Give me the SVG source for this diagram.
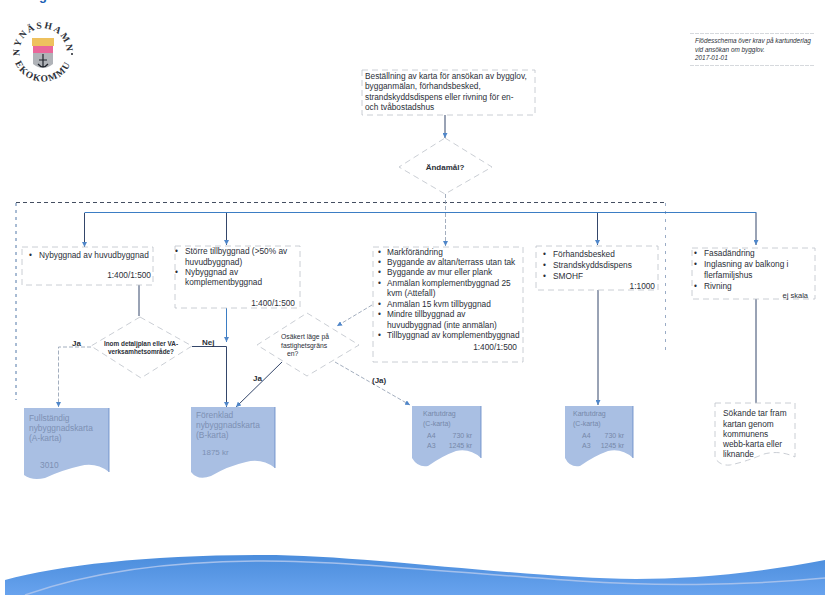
<svg xmlns="http://www.w3.org/2000/svg" width="825" height="595" viewBox="0 0 825 595">
<style>
text{font-family:"Liberation Sans",Arial,sans-serif;fill:#2b2f38;font-size:8.3px}
.w{fill:#fff;stroke:#bcc1c9;stroke-width:.8;stroke-dasharray:6 4}
.d{fill:#a9bfe3;stroke:none}
.e{fill:none;stroke:#5f86c4;stroke-width:.8}
.c{fill:none;stroke:#34466a;stroke-width:1}
.u{fill:none;stroke:#3b7dc4;stroke-width:1}
.l{fill:none;stroke:#8c99ad;stroke-width:.8;stroke-dasharray:4 2}
.t{fill:#7d90b3;font-size:8.4px}
.x{fill:#7688a9;font-size:7px}
.s{font-size:6.4px;font-style:italic}
.y{font-size:6.800px}
.k{font-weight:bold;font-size:8px}
.r{font-family:"Liberation Serif",serif;font-size:9.500px;font-weight:bold}
</style>
<defs>
<marker id="a" markerUnits="userSpaceOnUse" markerWidth="5" markerHeight="5" refX="5" refY="2.500" orient="auto"><path d="M0 0L5 2.500L0 5z" fill="#4f86c9"/></marker>
<linearGradient id="g" x1="0" y1="0" x2="0" y2="1"><stop offset="0" stop-color="#4b8ddc"/><stop offset="1" stop-color="#68a3ee"/></linearGradient>
<path id="ring" d="M20.300 58A23.500 23.500 0 1 1 65.700 58"/>
<path id="ring2" d="M14.500 61A30 30 0 0 0 71.500 61"/>
</defs>
<rect width="825" height="595" fill="#fff"/>
<g id="title"><text x="39" y="0" style="font-size:13px;font-weight:bold;fill:#1d5fb5">g</text></g>
<g id="logo">
<rect x="32" y="38" width="22" height="8" fill="#eec15e"/>
<rect x="33" y="46" width="20" height="7" fill="#e9679a"/>
<path d="M33 53H53V64Q43 72 33 64z" fill="#b0b3b8"/>
<path d="M43 54V67M39 60H47M38 64Q43 70 48 64" stroke="#20242c" stroke-width="1.200" fill="none"/>
<circle cx="15.500" cy="53" r="1" fill="#20242c"/><circle cx="72" cy="54" r="1" fill="#20242c"/>
<text class="r" style="letter-spacing:1.800px"><textPath href="#ring" startOffset="2">NYNÄSHAMN</textPath></text>
<text class="r" style="letter-spacing:1.200px"><textPath href="#ring2" startOffset="2">EKOKOMMUN</textPath></text>
</g>
<g id="note">
<path d="M690 33.500H815M690 65.500H815" stroke="#c4c8ce" stroke-width=".7" stroke-dasharray="4 1"/>
<text class="s" x="695" y="43">Flödesschema över krav på kartunderlag</text>
<text class="s" x="695" y="52">vid ansökan om bygglov.</text>
<text class="s" x="695" y="60">2017-01-01</text>
</g>
<g id="connectors">
<path d="M16 203V400" fill="none" stroke="#3f6a9e" stroke-width=".9" stroke-dasharray="3 4"/>
<path d="M16 202.500H665" fill="none" stroke="#2f3a4f" stroke-width=".9" stroke-dasharray="4 3"/>
<path d="M665.500 203V352" fill="none" stroke="#8fa3c0" stroke-width=".9" stroke-dasharray="3 5"/>
<path class="c" d="M445 115V138" marker-end="url(#a)"/>
<path class="l" d="M445.500 194V213"/>
<path class="u" d="M84.500 212.500H756.500"/>
<path class="c" d="M84.500 213V247" marker-end="url(#a)"/>
<path class="c" d="M226.500 213V245" marker-end="url(#a)"/>
<path class="l" d="M445.500 213V246" marker-end="url(#a)"/>
<path class="c" d="M597.500 213V245" marker-end="url(#a)"/>
<path class="c" d="M756 213V245" marker-end="url(#a)"/>
<path class="c" d="M139 285V316"/>
<path class="l" d="M91 347H58.500V407" marker-end="url(#a)"/>
<path class="u" d="M226.500 290V342" marker-end="url(#a)"/>
<path class="c" d="M192 346.500H226.500V407" marker-end="url(#a)"/>
<path class="l" d="M372 305L337 326" marker-end="url(#a)"/>
<path class="c" d="M282 362L236 407" marker-end="url(#a)"/>
<path class="l" d="M335 362L410 405" marker-end="url(#a)"/>
<path class="c" d="M598 290V405" marker-end="url(#a)"/>
<path class="c" d="M756 299V403"/>
</g>
<g id="start"><rect class="w" x="362" y="70" width="173" height="45"/>
<text x="365" y="79">Beställning av karta för ansökan av bygglov,</text>
<text x="365" y="89">bygganmälan, förhandsbesked,</text>
<text x="365" y="100">strandskyddsdispens eller rivning för en-</text>
<text x="365" y="110">och tvåbostadshus</text></g>
<g id="andamal"><path class="w" d="M445 138L492 167L445 194L399 167z"/><text x="445" y="170" text-anchor="middle" class="k">Ändamål?</text></g>
<g id="n1"><rect class="w" x="22" y="247" width="131" height="38"/>
<text x="29" y="258">•</text><text x="39" y="258">Nybyggnad av huvudbyggnad</text><text x="151" y="278" text-anchor="end">1:400/1:500</text></g>
<g id="n2"><rect class="w" x="175" y="246" width="125" height="62"/>
<text x="175" y="254">•</text><text x="185" y="254">Större tillbyggnad (&gt;50% av</text><text x="185" y="265">huvudbyggnad)</text><text x="175" y="275">•</text><text x="185" y="275">Nybyggnad av</text><text x="185" y="285">komplementbyggnad</text><text x="295" y="306" text-anchor="end">1:400/1:500</text></g>
<g id="n3"><rect class="w" x="373" y="247" width="150" height="115"/>
<text x="378" y="255">•</text><text x="387" y="255">Markförändring</text>
<text x="378" y="265">•</text><text x="387" y="265">Byggande av altan/terrass utan tak</text>
<text x="378" y="275">•</text><text x="387" y="275">Byggande av mur eller plank</text>
<text x="378" y="286">•</text><text x="387" y="286">Anmälan komplementbyggnad 25</text>
<text x="387" y="296">kvm (Attefall)</text>
<text x="378" y="307">•</text><text x="387" y="307">Anmälan 15 kvm tillbyggnad</text>
<text x="378" y="317">•</text><text x="387" y="317">Mindre tillbyggnad av</text>
<text x="387" y="328">huvudbyggnad (inte anmälan)</text>
<text x="378" y="338">•</text><text x="387" y="338">Tillbyggnad av komplementbyggnad</text>
<text x="517" y="350" text-anchor="end">1:400/1:500</text></g>
<g id="n4"><rect class="w" x="536" y="246" width="122" height="44"/>
<text x="543" y="257">•</text><text x="553" y="257">Förhandsbesked</text><text x="543" y="268">•</text><text x="553" y="268">Strandskyddsdispens</text><text x="543" y="279">•</text><text x="553" y="279">SMOHF</text><text x="655" y="289" text-anchor="end">1:1000</text></g>
<g id="n5"><rect class="w" x="692" y="248" width="123" height="51"/>
<text x="694" y="256">•</text><text x="704" y="256">Fasadändring</text><text x="694" y="267">•</text><text x="704" y="267">Inglasning av balkong i</text><text x="704" y="278">flerfamiljshus</text><text x="694" y="289">•</text><text x="704" y="289">Rivning</text><text x="808" y="298" text-anchor="end" style="font-size:7.500px">ej skala</text></g>
<g id="q1"><path class="w" d="M140 317L192 346L141 378L91 346z"/><text x="141" y="346" text-anchor="middle" style="font-size:6.400px;font-weight:bold">Inom detaljplan eller VA-</text><text x="141" y="354" text-anchor="middle" style="font-size:6.400px;font-weight:bold">verksamhetsområde?</text></g>
<g id="q2"><path class="w" d="M307 313L359 345L307 376L257 345z"/><text class="y" x="281" y="339">Osäkert läge på</text><text class="y" x="281" y="348">fastighetsgräns</text><text class="y" x="287" y="356">en?</text></g>
<g id="d1"><path class="d" d="M24 408H109V472Q96 462 80 466Q62 470 45 478Q32 481 24 475z"/><path class="e" d="M109 408V472"/><text class="t" x="29" y="421">Fullständig</text><text class="t" x="29" y="431">nybyggnadskarta</text><text class="t" x="29" y="441">(A-karta)</text><text class="t" x="40" y="468">3010</text></g>
<g id="d2"><path class="d" d="M191 407H275V468Q262 458 246 462Q228 466 211 476Q198 481 191 472z"/><path class="e" d="M275 407V468"/><text class="t" x="196" y="418">Förenklad</text><text class="t" x="196" y="428">nybyggnadskarta</text><text class="t" x="196" y="438">(B-karta)</text><text class="t" x="202" y="455" style="font-size:8px">1875 kr</text></g>
<g id="d3"><path class="d" d="M412 406H481V458Q470 448 456 451Q442 456 428 466Q418 468 412 458z"/><path class="e" d="M481 406V458"/><text class="x" x="423" y="416">Kartutdrag</text><text class="x" x="423" y="426">(C-karta)</text><text class="x" x="427" y="438">A4</text><text class="x" x="472" y="438" text-anchor="end">730 kr</text><text class="x" x="427" y="448">A3</text><text class="x" x="472" y="448" text-anchor="end">1245 kr</text></g>
<g id="d4"><path class="d" d="M565 406H633V458Q622 448 608 451Q594 456 580 466Q570 468 565 458z"/><path class="e" d="M633 406V458"/><text class="x" x="573" y="416">Kartutdrag</text><text class="x" x="573" y="426">(C-karta)</text><text class="x" x="582" y="438">A4</text><text class="x" x="624" y="438" text-anchor="end">730 kr</text><text class="x" x="582" y="448">A3</text><text class="x" x="624" y="448" text-anchor="end">1245 kr</text></g>
<g id="d5"><path class="w" d="M715 403H795V457Q780 450 764 454Q745 462 730 465Q720 466 715 458z"/><text x="723" y="416">Sökande tar fram</text><text x="723" y="427">kartan genom</text><text x="723" y="437">kommunens</text><text x="723" y="447">webb-karta eller</text><text x="723" y="457">liknande</text></g>
<g id="labels"><text x="72" y="346" class="k">Ja</text><text x="202" y="345" class="k">Nej</text><text x="253" y="381" class="k">Ja</text><text x="372" y="383" class="k">(Ja)</text></g>
<g id="wave"><path d="M5 580C60 565 150 555 263 555C350 555 480 572 579 577C640 581 720 580 825 560V595H5z" fill="url(#g)"/><path d="M25 595C90 572 170 561 263 561C350 561 470 574 579 581C650 586 740 586 825 578" fill="none" stroke="#a4c0ec" stroke-width="1.500"/></g>
</svg>
